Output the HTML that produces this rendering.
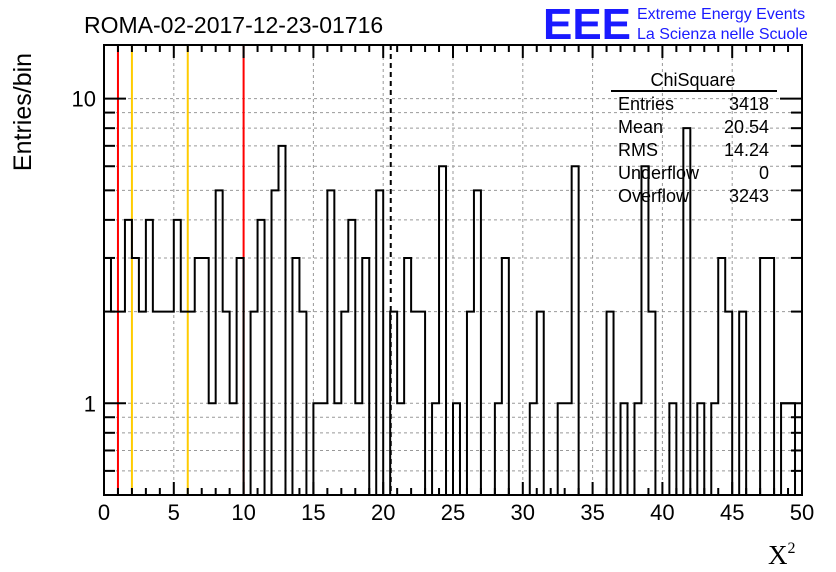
<!DOCTYPE html>
<html><head><meta charset="utf-8"><style>
body{margin:0;background:#fff;width:836px;height:572px;overflow:hidden}
svg{display:block;font-family:"Liberation Sans",sans-serif}
</style></head><body>
<svg id="c" width="836" height="572">
<rect width="836" height="572" fill="#fff"/>
<g id="grid"></g><g id="marks"></g><g id="axes"></g>
<text x="84" y="33" font-size="23">ROMA-02-2017-12-23-01716</text>
<text x="543" y="39" font-size="44" font-weight="bold" fill="#1a1aff" textLength="88" lengthAdjust="spacingAndGlyphs">EEE</text>
<text x="637" y="19" font-size="16" fill="#1a1aff">Extreme Energy Events</text>
<text x="637" y="39" font-size="16" fill="#1a1aff">La Scienza nelle Scuole</text>
<text transform="translate(31,112) rotate(-90)" text-anchor="middle" font-size="25">Entries/bin</text>
<text x="768" y="564" font-size="27" font-family="Liberation Serif,serif">X<tspan font-size="16" dy="-11">2</tspan></text>
<g font-size="18">
<text x="693" y="86" text-anchor="middle">ChiSquare</text>
<line x1="611" y1="91" x2="777" y2="91" stroke="#000" stroke-width="2"/>
<g id="stats"></g>
</g>
</svg>
<script>
const binValues=[3,2,2,4,3,2,4,2,2,2,4,2,2,3,3,1,5,2,1,3,0,2,4,0,5,7,0,3,2,0,1,1,5,1,2,4,1,3,0,5,0,2,1,3,2,2,0,1,6,0,1,0,2,5,0,0,1,3,0,0,0,1,2,0,0,1,1,6,0,0,0,0,2,0,1,0,1,6,2,0,0,1,0,8,0,1,0,1,3,2,0,2,0,0,3,3,0,1,1,0];
const xMin=0, xMax=50, yMin=0.5, yMax=15;
const xTicks=[0,5,10,15,20,25,30,35,40,45,50];
const yTickLabels=[1,10];
const statLabels=["Entries","Mean","RMS","Underflow","Overflow"];
const statValues=["3418","20.54","14.24","0","3243"];
const refLines=[{x:1,c:"#ff0000"},{x:2,c:"#ffcc00"},{x:6,c:"#ffcc00"},{x:10,c:"#ff0000"}];
const meanValue=20.54;
const L=104,R=802,T=45,B=495;
const NS="http://www.w3.org/2000/svg";
const sx=v=>L+(v-xMin)/(xMax-xMin)*(R-L);
const sy=v=>v<=yMin?B+2:B-(Math.log10(v)-Math.log10(yMin))/(Math.log10(yMax)-Math.log10(yMin))*(B-T);
function mk(p,tag,a){const e=document.createElementNS(NS,tag);for(const k in a)e.setAttribute(k,a[k]);p.appendChild(e);return e;}
const grid=document.getElementById('grid'),marks=document.getElementById('marks'),axes=document.getElementById('axes');
// grid
xTicks.forEach(t=>{const l=mk(grid,'line',{x1:sx(t),x2:sx(t),y1:T,y2:B,stroke:'#999','stroke-dasharray':'3,3'});

});
const logT=[0.6,0.7,0.8,0.9,1,2,3,4,5,6,7,8,9,10];
logT.forEach(t=>{const l=mk(grid,'line',{x1:L,x2:R,y1:sy(t),y2:sy(t),stroke:'#999','stroke-dasharray':'3,3'});

});
// ref lines
refLines.forEach(r=>{const l=mk(marks,'line',{x1:sx(r.x),x2:sx(r.x),y1:T,y2:B,stroke:r.c,'stroke-width':2});

});
const ml=mk(marks,'line',{x1:sx(meanValue),x2:sx(meanValue),y1:T,y2:B,stroke:'#000','stroke-width':2,'stroke-dasharray':'5,4'});


// histogram
const w=(xMax-xMin)/binValues.length;let d='';
binValues.forEach((v,i)=>{const x0=sx(xMin+i*w),x1=sx(xMin+(i+1)*w),y=sy(v);d+=(i===0?'M'+x0+','+y:'L'+x0+','+y)+'L'+x1+','+y;});
d+='L'+R+','+(B+2);
const cp=mk(marks,'clipPath',{id:'cl'});mk(cp,'rect',{x:L,y:T,width:R-L,height:B-T});
const h=mk(marks,'path',{d:d,fill:'none',stroke:'#000','stroke-width':2,'clip-path':'url(#cl)'});


// frame
const fr=mk(axes,'rect',{x:L,y:T,width:R-L,height:B-T,fill:'none',stroke:'#000','stroke-width':2});


for(let v=xMin;v<=xMax;v+=1){const big=v%5===0,len=big?13:7;
mk(axes,'line',{x1:sx(v),x2:sx(v),y1:B,y2:B-len,stroke:'#000','stroke-width':2});
mk(axes,'line',{x1:sx(v),x2:sx(v),y1:T,y2:T+len,stroke:'#000','stroke-width':2});}
xTicks.forEach(t=>{const e=mk(axes,'text',{x:sx(t),y:520,'text-anchor':'middle','font-size':22});e.textContent=t;

});
logT.forEach(t=>{const big=(t===1||t===10),len=big?22:11;
mk(axes,'line',{x1:L,x2:L+len,y1:sy(t),y2:sy(t),stroke:'#000','stroke-width':2});
mk(axes,'line',{x1:R,x2:R-len,y1:sy(t),y2:sy(t),stroke:'#000','stroke-width':2});});
yTickLabels.forEach(t=>{const e=mk(axes,'text',{x:96,y:sy(t)+8,'text-anchor':'end','font-size':22});e.textContent=t;

});
// stats
const st=document.getElementById('stats');
statLabels.forEach((s,i)=>{const y=110+i*23;
const a=mk(st,'text',{x:618,y:y});a.textContent=s;


const b=mk(st,'text',{x:769,y:y,'text-anchor':'end'});b.textContent=statValues[i];

});
</script>
</body></html>
